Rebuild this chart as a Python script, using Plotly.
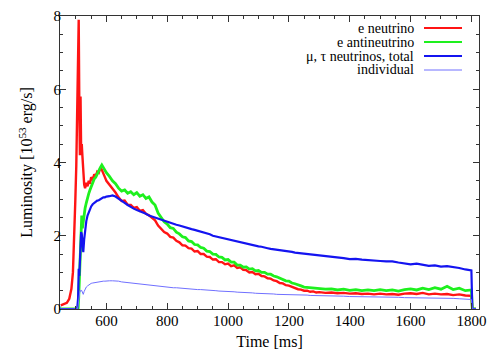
import plotly.graph_objects as go

time = [450, 460, 470, 478, 485, 490, 494, 498, 501, 504, 507, 509, 511, 513, 515, 517, 519, 521, 524, 527,
        530, 534, 538, 542, 546, 550, 555, 560, 565, 570, 575, 580, 585, 590, 595, 600,
        610, 620, 630, 640, 650, 660, 670, 680, 690, 700,
        710, 720, 730, 740, 750, 760, 770, 780, 790, 800,
        810, 820, 830, 840, 850, 860, 870, 880, 890, 900,
        910, 920, 930, 940, 950, 960, 970, 980, 990, 1000,
        1010, 1020, 1030, 1040, 1050, 1060, 1070, 1080, 1090, 1100,
        1110, 1120, 1130, 1140, 1150, 1160, 1170, 1180, 1190, 1200,
        1210, 1220, 1230, 1240, 1250, 1260, 1270, 1280, 1290, 1300,
        1320, 1340, 1360, 1380, 1400, 1420, 1440, 1460, 1480, 1500,
        1520, 1540, 1560, 1580, 1600, 1620, 1640, 1660, 1680, 1700,
        1720, 1740, 1760, 1780, 1800, 1803, 1815]

e_neutrino = [0.10, 0.13, 0.17, 0.28, 0.55, 1.0, 1.8, 3.0, 3.9, 5.6, 7.0, 7.9, 5.5, 4.2, 5.8, 4.3, 4.5, 4.2, 3.7, 3.4,
              3.3, 3.45, 3.35, 3.5, 3.42, 3.6, 3.52, 3.68, 3.62, 3.75, 3.72, 3.85, 3.8, 3.72, 3.6, 3.5,
              3.4, 3.28, 3.18, 3.05, 2.95, 2.96, 2.85, 2.84, 2.76, 2.78,
              2.68, 2.7, 2.6, 2.56, 2.48, 2.42, 2.28, 2.2, 2.1, 2.06,
              1.97, 1.95, 1.86, 1.82, 1.74, 1.73, 1.66, 1.65, 1.57, 1.58,
              1.5, 1.5, 1.43, 1.42, 1.35, 1.36, 1.28, 1.28, 1.22, 1.24,
              1.17, 1.19, 1.12, 1.14, 1.07, 1.06, 1.0, 1.01, 0.95, 0.96,
              0.9, 0.89, 0.84, 0.83, 0.78, 0.76, 0.71, 0.7, 0.65, 0.64,
              0.6, 0.58, 0.54, 0.53, 0.5, 0.5, 0.47, 0.48, 0.45, 0.46,
              0.44, 0.45, 0.43, 0.44, 0.42, 0.43, 0.41, 0.42, 0.4, 0.42,
              0.4, 0.41, 0.39, 0.42, 0.43, 0.41, 0.44, 0.4, 0.42, 0.4,
              0.41, 0.38, 0.4, 0.37, 0.36, 0.0, 0.0]

e_antineutrino = [0, 0, 0, 0, 0, 0, 0, 0, 0, 0, 0.0, 0.3, 0.8, 1.5, 2.0, 2.4, 2.55, 2.2, 2.4, 2.6,
                  2.75, 2.9, 3.05, 3.15, 3.25, 3.35, 3.42, 3.55, 3.6, 3.7, 3.75, 3.86, 3.93, 3.86, 3.82, 3.72,
                  3.62, 3.5, 3.42, 3.3, 3.22, 3.25, 3.16, 3.2, 3.12, 3.18,
                  3.08, 3.12, 3.02, 3.06, 2.92, 2.84, 2.62, 2.5, 2.38, 2.32,
                  2.22, 2.2, 2.1, 2.05, 1.97, 1.95, 1.86, 1.84, 1.76, 1.75,
                  1.68, 1.66, 1.58, 1.57, 1.5, 1.49, 1.42, 1.41, 1.34, 1.35,
                  1.28, 1.28, 1.2, 1.2, 1.14, 1.15, 1.09, 1.1, 1.04, 1.05,
                  1.0, 1.0, 0.95, 0.95, 0.9, 0.88, 0.84, 0.82, 0.77, 0.76,
                  0.71, 0.69, 0.65, 0.63, 0.6, 0.59, 0.57, 0.57, 0.55, 0.56,
                  0.54, 0.55, 0.52, 0.54, 0.51, 0.53, 0.5, 0.52, 0.5, 0.53,
                  0.5, 0.52, 0.49, 0.53, 0.55, 0.52, 0.57, 0.53, 0.58, 0.54,
                  0.62, 0.53, 0.57, 0.5, 0.52, 0.0, 0.0]

mu_tau_total = [0, 0, 0, 0, 0, 0, 0, 0, 0, 0, 0.3, 1.1, 0.9, 1.5, 1.9, 2.1, 2.05, 1.8, 1.55, 1.9,
                2.2, 2.4, 2.55, 2.65, 2.74, 2.8, 2.86, 2.9, 2.93, 2.96, 2.97, 3.0, 3.02, 3.05, 3.05, 3.07,
                3.08, 3.1, 3.07, 3.02, 2.95, 2.9, 2.84, 2.78, 2.74, 2.7,
                2.67, 2.63, 2.6, 2.55, 2.52, 2.5, 2.46, 2.45, 2.41, 2.38,
                2.36, 2.33, 2.3, 2.28, 2.25, 2.24, 2.2, 2.18, 2.16, 2.14,
                2.12, 2.1, 2.06, 2.04, 2.0, 1.98, 1.96, 1.94, 1.92, 1.9,
                1.88, 1.86, 1.83, 1.82, 1.79, 1.77, 1.76, 1.74, 1.72, 1.71,
                1.7, 1.67, 1.66, 1.64, 1.63, 1.61, 1.6, 1.59, 1.58, 1.57,
                1.56, 1.54, 1.53, 1.52, 1.51, 1.5, 1.49, 1.48, 1.47, 1.46,
                1.45, 1.43, 1.42, 1.39, 1.36, 1.37, 1.35, 1.33, 1.32, 1.31,
                1.3, 1.3, 1.27, 1.25, 1.22, 1.24, 1.2, 1.18, 1.19, 1.16,
                1.17, 1.15, 1.12, 1.08, 1.05, 0.0, 0.0]

individual = [0, 0, 0, 0, 0, 0, 0, 0, 0, 0, 0.08, 0.27, 0.3, 0.5, 0.48, 0.52, 0.5, 0.45, 0.4, 0.48,
              0.55, 0.6, 0.63, 0.66, 0.68, 0.7, 0.71, 0.72, 0.73, 0.74, 0.74, 0.75, 0.76, 0.76, 0.76, 0.77,
              0.77, 0.77, 0.77, 0.76, 0.74, 0.73, 0.71, 0.7, 0.69, 0.68,
              0.67, 0.66, 0.65, 0.64, 0.63, 0.62, 0.62, 0.61, 0.6, 0.6,
              0.59, 0.58, 0.58, 0.57, 0.56, 0.56, 0.55, 0.55, 0.54, 0.53,
              0.53, 0.52, 0.52, 0.51, 0.5, 0.5, 0.49, 0.49, 0.48, 0.48,
              0.47, 0.47, 0.46, 0.46, 0.45, 0.44, 0.44, 0.44, 0.43, 0.43,
              0.42, 0.42, 0.41, 0.41, 0.41, 0.4, 0.4, 0.4, 0.39, 0.39,
              0.39, 0.39, 0.38, 0.38, 0.38, 0.38, 0.37, 0.37, 0.37, 0.37,
              0.36, 0.36, 0.36, 0.35, 0.34, 0.34, 0.34, 0.33, 0.33, 0.33,
              0.32, 0.32, 0.32, 0.31, 0.31, 0.31, 0.3, 0.3, 0.3, 0.29,
              0.29, 0.29, 0.28, 0.27, 0.26, 0.0, 0.0]

names = ["e neutrino", "e antineutrino", "μ, τ neutrinos, total", "individual"]
colors = ["#ff1414", "#1ef01e", "#1414f0", "#7070ff"]
widths = [2.4, 2.8, 2.2, 1]
series = [e_neutrino, e_antineutrino, mu_tau_total, individual]

fig = go.Figure()
for name, ys, c, w in zip(names, series, colors, widths):
    fig.add_trace(go.Scatter(x=time, y=ys, mode="lines", name=name,
                             line=dict(color=c, width=w), showlegend=False))

font = "Liberation Serif"
axis_common = dict(showline=True, linecolor="#333", linewidth=1, mirror="ticks",
                   ticks="inside", tickcolor="#333", ticklen=6, showgrid=False,
                   zeroline=False, automargin=False,
                   tickfont=dict(family=font, size=15, color="black"))

fig.update_xaxes(range=[447.5, 1825], tick0=0, dtick=200, ticklabelstandoff=-2,
                 minor=dict(ticks="inside", dtick=50, ticklen=3, tickcolor="#333"),
                 title=dict(text="Time [ms]", font=dict(family=font, size=16, color="black"), standoff=7),
                 **axis_common)
fig.update_yaxes(range=[0, 8], tick0=0, dtick=2, ticklabelstandoff=-5,
                 minor=dict(ticks="inside", dtick=0.5, ticklen=3, tickcolor="#333"),
                 title=dict(text="Luminosity [10<sup>53</sup> erg/s]", font=dict(family=font, size=16, color="black"), standoff=16),
                 **axis_common)

# page has an 8px body margin; figure coordinates are page coordinates minus 8
W, H = 484, 342
L, R, T, B = 52, 471, 8, 301
rows_py = [20, 34, 48, 62]
for name, c, w, py in zip(names, colors, widths, rows_py):
    yp = (B - py) / (B - T)
    fig.add_annotation(xref="paper", yref="paper", x=(408 - L) / (R - L), y=yp,
                       xanchor="right", yanchor="middle", showarrow=False, text=name,
                       font=dict(family=font, size=14, color="black"))
    fig.add_shape(type="line", xref="paper", yref="paper",
                  x0=(416 - L) / (R - L), x1=(454 - L) / (R - L), y0=yp, y1=yp,
                  line=dict(color=c, width=min(w, 2)))

fig.update_layout(width=W, height=H, margin=dict(l=L, r=W - R, t=T, b=H - B),
                  paper_bgcolor="white", plot_bgcolor="white")
fig.write_html("out.html")
